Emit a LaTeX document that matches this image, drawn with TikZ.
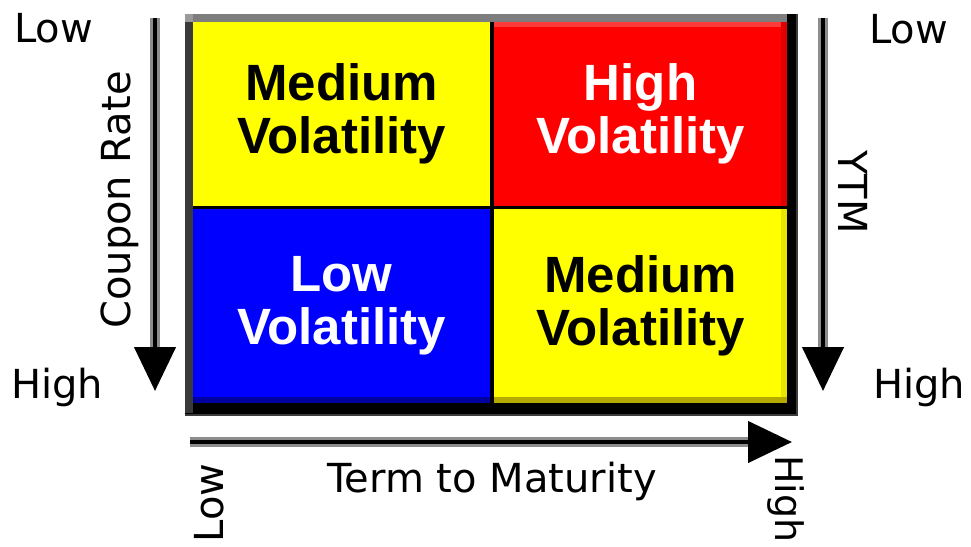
\documentclass[tikz,border=0pt]{standalone}
\usepackage{fontspec}
\setmainfont{DejaVu Sans}
\newfontfamily\cellfont{Liberation Sans}
\usetikzlibrary{arrows.meta}
\definecolor{cyellow}{HTML}{FFFF00}
\definecolor{cred}{HTML}{FF0000}
\definecolor{cblue}{HTML}{0000FF}
\definecolor{frametop}{HTML}{7E7E7E}
\definecolor{framecorner}{HTML}{9A9A9A}
\definecolor{frameleft}{HTML}{3A3A3A}
\definecolor{frameout}{HTML}{3C3C3C}
\definecolor{shaftg}{HTML}{8C8C8C}
\definecolor{yelldark}{HTML}{B4AA00}
\definecolor{yellside}{HTML}{E6E600}
\definecolor{bluedark}{HTML}{0000A0}
\definecolor{redlight}{HTML}{FF3A3A}
\definecolor{redside}{HTML}{E00000}
\begin{document}
\begin{tikzpicture}[x=1pt,y=-1pt,
  cell/.style={draw=none, inner sep=0pt, outer sep=0pt, align=center,
    anchor=north west, font=\cellfont\bfseries\fontsize{51}{53}\selectfont},
  axlabel/.style={inner sep=0pt, outer sep=0pt, text=black,
    font=\fontsize{40}{46}\selectfont},
  shaftgray/.style={draw=shaftg, line width=10pt},
  shaftcore/.style={draw=black, line width=4.5pt,
    -{Triangle[length=44pt,width=41pt]}}
]
\useasboundingbox[fill=white] (0,0) rectangle (971,546);

% frame
\fill[black] (185,14) rectangle (798,416);
\fill[frametop] (185,14) rectangle (787,22);
\fill[framecorner] (185,14) rectangle (193,22);
\fill[frameleft] (185,22) rectangle (193,413);
\fill[frameout] (796,14) rectangle (798,416);
\fill[frameout] (185,414) rectangle (798,416);

% cells
\node[cell, fill=cyellow, text=black, minimum width=297pt, minimum height=184pt]
  (mtl) at (193,22) {Medium\\Volatility};
\node[cell, fill=cred, text=white, minimum width=293pt, minimum height=184pt]
  (htr) at (494,22) {High\\Volatility};
\node[cell, fill=cblue, text=white, minimum width=297pt, minimum height=194pt]
  (lbl) at (193,209) {Low\\Volatility};
\node[cell, fill=cyellow, text=black, minimum width=293pt, minimum height=194pt]
  (mbr) at (494,209) {Medium\\Volatility};

% bevel strips
\fill[redlight] (494,22) rectangle (787,27);
\fill[redside] (781,22) rectangle (787,206);
\fill[yellside] (781,209) rectangle (787,403);
\fill[yelldark] (494,397) rectangle (787,403);
\fill[bluedark] (193,397) rectangle (490,403);

% axis arrows
\coordinate (ls) at (155,18);
\coordinate (le) at (155,391);
\coordinate (rs) at (823,18);
\coordinate (re) at (823,391);
\coordinate (bs) at (190,442);
\coordinate (be) at (792,442);
\draw[shaftgray, shorten >=43pt] (ls) -- (le);
\draw[shaftcore] (ls) -- (le);
\draw[shaftgray, shorten >=43pt] (rs) -- (re);
\draw[shaftcore] (rs) -- (re);
\draw[shaftgray, shorten >=43pt] (bs) -- (be);
\draw[shaftcore] (bs) -- (be);

% labels
\node[axlabel, anchor=base west] (lowl) at (14,42) {Low};
\node[axlabel, anchor=base west] (highl) at (11,398) {High};
\node[axlabel, anchor=base west] (lowr) at (869,43) {Low};
\node[axlabel, anchor=base west] (highr) at (873,398) {High};
\node[axlabel, rotate=90, anchor=base] (coupon) at (130,200) {Coupon Rate};
\node[axlabel, rotate=-90, anchor=base] (ytm) at (838,192) {YTM};
\node[axlabel, anchor=base] (term) at (492,492) {Term to Maturity};
\node[axlabel, rotate=90, anchor=base] (lowb) at (223,503) {Low};
\node[axlabel, rotate=-90, anchor=base, font=\fontsize{38}{44}\selectfont] (highb) at (775,499) {High};
\end{tikzpicture}
\end{document}
